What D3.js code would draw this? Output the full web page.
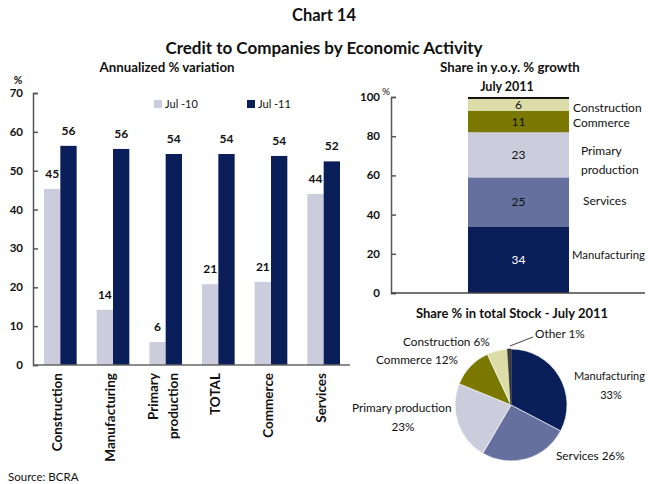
<!DOCTYPE html>
<html><head><meta charset="utf-8">
<script src="https://cdn.jsdelivr.net/npm/d3@7"></script>
<style>
body{margin:0;background:#fff;}
text{font-family:Lato,"Open Sans",sans-serif;fill:#111;}
</style></head>
<body>
<svg id="c" width="648" height="484"></svg>
<script>
// ---- data ----
const categories = ["Construction","Manufacturing","Primary production","TOTAL","Commerce","Services"];
const jul10 = [45.3,14.2,5.9,20.8,21.4,44.0];
const jul11 = [56.4,55.6,54.3,54.3,53.8,52.4];
const seriesNames = ["Jul -10","Jul -11"];
const barTicks = [0,10,20,30,40,50,60,70];

const stackCats = ["Manufacturing","Services","Primary production","Commerce","Construction","Other"];
const stackVals = [34,25,23,11,6,1];
const stackTicks = [0,20,40,60,80,100];

const pieCats = ["Manufacturing","Services","Primary production","Commerce","Construction","Other"];
const pieVals = [33,26,23,12,6,1];

const colNavy="#0a1f5a", colLight="#cbccdc";
const catColors = {"Manufacturing":"#0a1f5a","Services":"#66709e","Primary production":"#cbccdc","Commerce":"#7a7800","Construction":"#dcdca8","Other":"#444"};

const svg = d3.select("#c");

// titles
svg.append("text").attr("x",324).attr("y",21).attr("text-anchor","middle").attr("font-size",16.5).attr("font-weight","bold").text("Chart 14");
svg.append("text").attr("x",324).attr("y",54).attr("text-anchor","middle").attr("font-size",17).attr("font-weight","bold").text("Credit to Companies by Economic Activity");
svg.append("text").attr("x",167).attr("y",72).attr("text-anchor","middle").attr("font-size",13.3).attr("font-weight","bold").text("Annualized % variation");

// ---- left bar chart ----
const x0 = d3.scaleBand().domain(categories).range([34,350]).paddingInner(0.38).paddingOuter(0.19);
const x1 = d3.scaleBand().domain(seriesNames).range([0,x0.bandwidth()]);
const y = d3.scaleLinear().domain([0,70]).range([365,93]);

const yAx = svg.append("g").attr("transform","translate(33,0)")
  .call(d3.axisRight(y).tickValues(barTicks).tickSize(5).tickFormat(""));
yAx.select(".domain").attr("stroke","#555").attr("stroke-width",1.5);
yAx.selectAll(".tick line").attr("stroke","#555").attr("stroke-width",1.5);
barTicks.forEach(t=>{
  svg.append("text").attr("x",23).attr("y",y(t)+4).attr("text-anchor","end").attr("font-size",11.5).attr("font-weight","bold").text(t);
});
svg.append("text").attr("x",18).attr("y",84).attr("text-anchor","middle").attr("font-size",10.5).attr("font-weight","bold").text("%");

const series = [jul10, jul11];
const sCol = [colLight, colNavy];
categories.forEach((c,i)=>{
  series.forEach((s,k)=>{
    const xx = x0(c)+x1(seriesNames[k]);
    svg.append("rect").attr("x",xx).attr("y",y(s[i])).attr("width",x1.bandwidth()).attr("height",y(0)-y(s[i])).attr("fill",sCol[k]);
    svg.append("text").attr("x",xx+x1.bandwidth()/2).attr("y",y(s[i])-11).attr("text-anchor","middle")
      .attr("font-size",12).attr("font-weight","bold").text(Math.round(s[i]));
  });
});
svg.append("line").attr("x1",33).attr("x2",350).attr("y1",365).attr("y2",365).attr("stroke","#666").attr("stroke-width",1.5);

// category labels rotated
categories.forEach(c=>{
  const cx = x0(c)+x0.bandwidth()/2;
  const lines = c==="Primary production" ? ["Primary","production"] : [c];
  lines.forEach((ln,j)=>{
    const off = (j-(lines.length-1)/2)*20;
    svg.append("text").attr("transform",`translate(${cx+off+2},373) rotate(-90)`).attr("text-anchor","end")
      .attr("font-size",13.5).attr("font-weight","bold").text(ln);
  });
});

// legend
seriesNames.forEach((n,k)=>{
  const lx = [154,247][k];
  svg.append("rect").attr("x",lx).attr("y",100).attr("width",8).attr("height",8).attr("fill",sCol[k]);
  svg.append("text").attr("x",lx+11).attr("y",108).attr("font-size",11).text(n);
});

svg.append("text").attr("x",8).attr("y",481).attr("font-size",11.5).text("Source: BCRA");

// ---- right stacked bar ----
svg.append("text").attr("x",510).attr("y",72).attr("text-anchor","middle").attr("font-size",13.3).attr("font-weight","bold").text("Share in y.o.y. % growth");
svg.append("text").attr("x",507).attr("y",91).attr("text-anchor","middle").attr("font-size",12.5).attr("font-weight","bold").text("July 2011");

const ys = d3.scaleLinear().domain([0,100]).range([293,97]);
const bx0 = 468, bw = 101;
const yAx2 = svg.append("g").attr("transform","translate(391,0)")
  .call(d3.axisRight(ys).tickValues(stackTicks).tickSize(5).tickFormat(""));
yAx2.select(".domain").attr("stroke","#555").attr("stroke-width",1.5);
yAx2.selectAll(".tick line").attr("stroke","#555").attr("stroke-width",1.5);
stackTicks.forEach(t=>{
  svg.append("text").attr("x",380).attr("y",ys(t)+4).attr("text-anchor","end").attr("font-size",11.5).attr("font-weight","bold").text(t);
});
svg.append("text").attr("x",386).attr("y",95).attr("text-anchor","middle").attr("font-size",10).text("%");

let acc = 0;
const stackLabelPos = {
  "Construction":[573,108],"Commerce":[573,123],"Primary production":[581,151],
  "Services":[583,201],"Manufacturing":[572,255]
};
stackCats.forEach((c,i)=>{
  const v = stackVals[i];
  const top = ys(acc+v), bot = ys(acc);
  svg.append("rect").attr("x",bx0).attr("y",top).attr("width",bw).attr("height",bot-top)
    .attr("fill", c==="Other" ? "#111" : catColors[c]);
  if(c!=="Other"){
    svg.append("text").attr("x",bx0+bw/2).attr("y",(top+bot)/2+4).attr("text-anchor","middle")
      .attr("font-size",12).style("fill", c==="Manufacturing"?"#fff":"#111").text(v);
    const p = stackLabelPos[c];
    const lines = c==="Primary production" ? ["Primary","production"] : [c];
    lines.forEach((ln,j)=>{
      svg.append("text").attr("x",p[0]).attr("y",p[1]+4+j*19).attr("font-size",c==="Manufacturing"?11.3:12).text(ln);
    });
  }
  acc += v;
});
svg.append("line").attr("x1",391).attr("x2",645).attr("y1",293).attr("y2",293).attr("stroke","#444").attr("stroke-width",1.5);

// ---- pie ----
svg.append("text").attr("x",512).attr("y",318).attr("text-anchor","middle").attr("font-size",13).attr("font-weight","bold").text("Share % in total Stock - July 2011");
const pie = d3.pie().sort(null).value(d=>d)(pieVals);
const arc = d3.arc().innerRadius(0).outerRadius(56);
const pg = svg.append("g").attr("transform","translate(511,405)");
pg.selectAll("path").data(pie).join("path").attr("d",arc)
  .attr("fill",(d,i)=>catColors[pieCats[i]])
  .attr("stroke",(d,i)=>pieCats[i]==="Other"?"#111":"#fff").attr("stroke-width",0.6);

const pieLabels = [
  {t:["Manufacturing",pieVals[0]+"%"], x:[574,611], y:[380,399], a:["start","middle"], f:11},
  {t:["Services "+pieVals[1]+"%"], x:[556], y:[460], a:["start"], f:11.8},
  {t:["Primary production",pieVals[2]+"%"], x:[352,403], y:[412,431], a:["start","middle"], f:11.8},
  {t:["Commerce "+pieVals[3]+"%"], x:[376], y:[364], a:["start"], f:11.8},
  {t:["Construction "+pieVals[4]+"%"], x:[403], y:[346], a:["start"], f:11.8},
  {t:["Other "+pieVals[5]+"%"], x:[535], y:[338], a:["start"], f:11.8}
];
pieLabels.forEach(l=>{
  l.t.forEach((s,j)=>{
    svg.append("text").attr("x",l.x[j]).attr("y",l.y[j]).attr("text-anchor",l.a[j]).attr("font-size",l.f).text(s);
  });
});
svg.append("line").attr("x1",510).attr("y1",346).attr("x2",533).attr("y2",337).attr("stroke","#111").attr("stroke-width",0.8);
</script>
</body></html>
